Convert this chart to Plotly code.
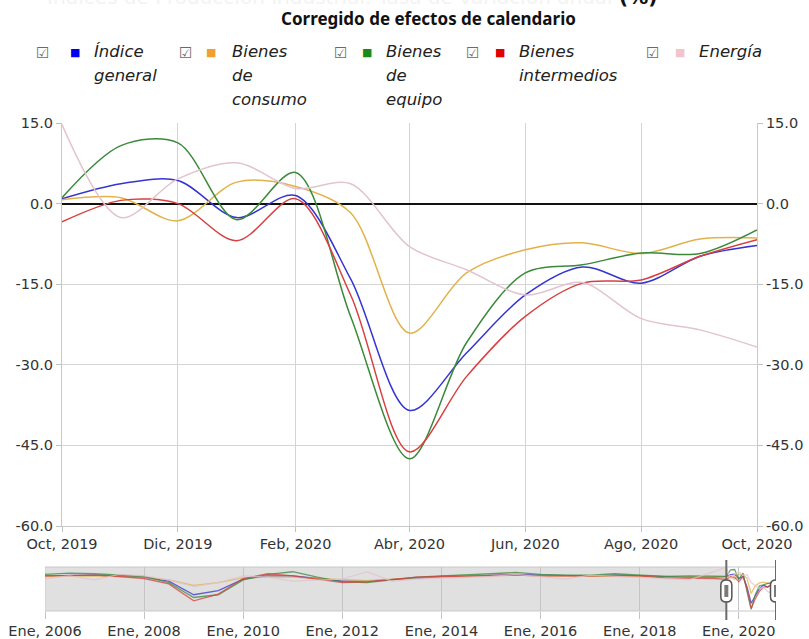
import plotly.graph_objects as go

W, H = 809, 639

# ---------------- data (main window, monthly) ----------------
months = ["2019-10-01", "2019-11-01", "2019-12-01", "2020-01-01", "2020-02-01",
          "2020-03-01", "2020-04-01", "2020-05-01", "2020-06-01", "2020-07-01",
          "2020-08-01", "2020-09-01", "2020-10-01"]
indice_general = [0.9, 3.7, 4.3, -2.6, 1.5, -14.0, -38.5, -27.8, -17.0, -11.8, -14.8, -9.8, -7.8]
bienes_consumo = [0.7, 1.1, -3.2, 4.0, 3.2, -1.7, -24.1, -12.9, -8.6, -7.3, -9.3, -6.6, -6.4]
bienes_equipo = [1.1, 10.8, 11.3, -3.0, 5.8, -21.0, -47.5, -25.9, -12.9, -11.4, -9.2, -9.3, -4.9]
bienes_intermedios = [-3.4, 0.6, 0.0, -6.9, 0.9, -17.0, -46.2, -32.2, -21.0, -14.8, -14.2, -9.8, -6.7]
energia = [14.7, -2.6, 4.6, 7.6, 2.8, 3.7, -8.0, -12.3, -17.0, -14.7, -21.4, -23.5, -26.7]

# ---------------- data (navigator history, semiannual estimates) ----------------
hist_dates = ["2006-01-01", "2006-07-01", "2007-01-01", "2007-07-01", "2008-01-01", "2008-07-01",
              "2009-01-01", "2009-07-01", "2010-01-01", "2010-07-01", "2011-01-01", "2011-07-01",
              "2012-01-01", "2012-07-01", "2013-01-01", "2013-07-01", "2014-01-01", "2014-07-01",
              "2015-01-01", "2015-07-01", "2016-01-01", "2016-07-01", "2017-01-01", "2017-07-01",
              "2018-01-01", "2018-07-01", "2019-01-01", "2019-07-01"]
hist_general = [2, 3, 3, 2, 0, -6, -26, -20, -3, 2, 2, -2, -6, -6, -4, -1, 1, 1, 2, 4, 3, 2, 2, 3, 2, 0, 0, 0]
hist_consumo = [1, 2, 2, 1, 0, -4, -12, -8, -1, 0, 0, -2, -4, -5, -3, -1, 1, 1, 2, 3, 2, 2, 1, 2, 1, 0, 1, 1]
hist_equipo = [4, 6, 5, 3, 1, -8, -30, -26, -4, 4, 8, 0, -7, -8, -4, 0, 2, 3, 5, 7, 4, 3, 3, 5, 3, 1, 2, 2]
hist_intermedios = [2, 3, 3, 1, -2, -10, -35, -25, -2, 5, 2, -3, -8, -7, -4, 0, 1, 2, 2, 3, 2, 2, 3, 3, 2, -1, -1, -2]
hist_energia = [-2, 2, -4, 4, 2, -4, -14, -8, 2, 0, -6, -4, -3, 8, -6, -3, -2, 0, 1, 4, 0, -3, 3, 1, 0, -2, -4, 8]

series_labels = ["Índice\ngeneral", "Bienes\nde\nconsumo", "Bienes\nde\nequipo", "Bienes\nintermedios", "Energía"]
line_colors = ["#3434d0", "#e2b24a", "#3a8a3a", "#d84040", "#e3c3cf"]
legend_colors = ["#0000ee", "#f0a030", "#1a8a1a", "#e00000", "#f4c4cc"]

main_tick_vals = ["2019-10-01", "2019-12-01", "2020-02-01", "2020-04-01", "2020-06-01", "2020-08-01", "2020-10-01"]
main_tick_text = ["Oct, 2019", "Dic, 2019", "Feb, 2020", "Abr, 2020", "Jun, 2020", "Ago, 2020", "Oct, 2020"]
y_tick_vals = [15, 0, -15, -30, -45, -60]
y_tick_text = ["15.0", "0.0", "-15.0", "-30.0", "-45.0", "-60.0"]
nav_tick_vals = ["2006-01-01", "2008-01-01", "2010-01-01", "2012-01-01", "2014-01-01",
                 "2016-01-01", "2018-01-01", "2020-01-01"]
nav_tick_text = ["Ene, 2006", "Ene, 2008", "Ene, 2010", "Ene, 2012", "Ene, 2014",
                 "Ene, 2016", "Ene, 2018", "Ene, 2020"]

title_text = "Índices de Producción Industrial. Tasa de variación anual"
subtitle_text = "Corregido de efectos de calendario"

main_series = [indice_general, bienes_consumo, bienes_equipo, bienes_intermedios, energia]
hist_series = [hist_general, hist_consumo, hist_equipo, hist_intermedios, hist_energia]

FONT = "DejaVu Sans"


def fx(px):
    return px / W


def fy(py):
    return 1 - py / H


fig = go.Figure()

# main traces
for vals, col, lab in zip(main_series, line_colors, series_labels):
    fig.add_trace(go.Scatter(x=months, y=vals, mode="lines", name=lab.replace("\n", " "),
                             line=dict(color=col, width=1.5, shape="spline", smoothing=0.9),
                             xaxis="x", yaxis="y", showlegend=False))
# invisible trace to carry the right-hand axis
fig.add_trace(go.Scatter(x=months, y=indice_general, mode="lines", line=dict(width=0),
                         opacity=0, xaxis="x", yaxis="y3", showlegend=False, hoverinfo="skip"))

# navigator traces
for hv, mv, col in zip(hist_series, main_series, line_colors):
    fig.add_trace(go.Scatter(x=hist_dates + months, y=hv + mv, mode="lines",
                             line=dict(color=col, width=1.3), opacity=0.75,
                             xaxis="x2", yaxis="y2", showlegend=False, hoverinfo="skip"))

tickfont = dict(family=FONT, size=14.5, color="#333333")

fig.update_layout(
    template="none",
    width=W, height=H, margin=dict(l=0, r=0, t=0, b=0, pad=0, autoexpand=False),
    paper_bgcolor="white", plot_bgcolor="rgba(0,0,0,0)",
    font=dict(family=FONT),
    showlegend=False,
    xaxis=dict(domain=[fx(62), fx(757)], anchor="y", type="date", automargin=False,
               range=[months[0], months[-1]],
               tickvals=main_tick_vals, ticktext=main_tick_text, tickfont=tickfont,
               showgrid=True, gridcolor="#d4d4d4", gridwidth=1,
               ticks="outside", ticklen=5, tickcolor="#c0c0c0",
               showline=True, linecolor="#c8c8c8", zeroline=False, fixedrange=True),
    yaxis=dict(domain=[fy(526), fy(123)], anchor="x", range=[-60, 15], automargin=False,
               tickvals=y_tick_vals, ticktext=y_tick_text, tickfont=tickfont,
               showgrid=True, gridcolor="#d4d4d4", gridwidth=1,
               zeroline=True, zerolinecolor="#111111", zerolinewidth=1.8,
               ticks="outside", ticklen=5, tickcolor="#c0c0c0",
               showline=True, linecolor="#c8c8c8", fixedrange=True),
    yaxis3=dict(overlaying="y", side="right", anchor="x", range=[-60, 15], automargin=False,
                tickvals=y_tick_vals, ticktext=y_tick_text, tickfont=tickfont,
                showgrid=False, zeroline=False,
                ticks="outside", ticklen=5, tickcolor="#c0c0c0",
                showline=True, linecolor="#c8c8c8", fixedrange=True),
    xaxis2=dict(domain=[fx(45), fx(776)], anchor="y2", type="date", automargin=False,
                range=[hist_dates[0], months[-1]],
                tickvals=nav_tick_vals, ticktext=nav_tick_text, tickfont=tickfont,
                showgrid=True, gridcolor="#c4c4c4", gridwidth=1,
                ticks="outside", ticklen=7, tickcolor="#c4c4c4",
                showline=False, zeroline=False, fixedrange=True),
    yaxis2=dict(domain=[fy(611), fy(567)], anchor="x2", range=[-50, 15], automargin=False,
                showticklabels=False, showgrid=False, zeroline=False,
                showline=False, fixedrange=True),
)

shapes = []
# navigator shaded (unselected) region and frame
shapes.append(dict(type="rect", xref="x2", yref="y2 domain", x0=hist_dates[0], x1=months[0],
                   y0=0, y1=1, fillcolor="#e0e0e0", line=dict(width=0), layer="below"))
shapes.append(dict(type="rect", xref="x2", yref="y2 domain", x0=hist_dates[0], x1=months[-1],
                   y0=0, y1=1, fillcolor="rgba(0,0,0,0)", line=dict(color="#c8c8c8", width=1),
                   layer="below"))
# navigator handles
for d in (months[0], months[-1]):
    shapes.append(dict(type="line", xref="x2", yref="paper", x0=d, x1=d,
                       y0=fy(620), y1=fy(560), line=dict(color="#6a6a6a", width=2)))
    shapes.append(dict(type="path", xref="x2", yref="paper", xsizemode="pixel", ysizemode="pixel",
                       xanchor=d, yanchor=fy(591),
                       path="M -5.5,-6 Q -5.5,-11 0,-11 Q 5.5,-11 5.5,-6 L 5.5,6 Q 5.5,11 0,11 "
                            "Q -5.5,11 -5.5,6 Z",
                       fillcolor="white", line=dict(color="#555555", width=1.5)))
    shapes.append(dict(type="rect", xref="x2", yref="paper", xsizemode="pixel", ysizemode="pixel",
                       xanchor=d, yanchor=fy(591), x0=-2, x1=2, y0=-6, y1=6,
                       fillcolor="#7a7a7a", line=dict(width=0)))
fig.update_layout(shapes=shapes)

ann = []
# clipped main title (cut by the top edge, as in the reference)
ann.append(dict(xref="paper", yref="paper", x=fx(352), y=fy(-3), xanchor="center", yanchor="middle",
                showarrow=False,
                text="<span style='color:#f3f3f3'>" + title_text + "</span> <b>(%)</b>",
                font=dict(family=FONT, size=20, color="#111111")))
ann.append(dict(xref="paper", yref="paper", x=fx(428), y=fy(19), xanchor="center", yanchor="middle",
                showarrow=False, text="<b>" + subtitle_text + "</b>",
                font=dict(family="Noto Sans", size=17, color="#111111")))

# legend built from annotations
cb_x = [42, 185, 340, 472, 652]
sq_x = [75, 211, 367, 500, 680]
tx_x = [92, 230, 384, 517, 697]
row_y0, row_dy = 52, 23.5
for i, lab in enumerate(series_labels):
    ann.append(dict(xref="paper", yref="paper", x=fx(cb_x[i]), y=fy(row_y0 + 1), xanchor="center",
                    yanchor="middle", showarrow=False, text="☑",
                    font=dict(family=FONT, size=15, color="#6a6a6a")))
    ann.append(dict(xref="paper", yref="paper", x=fx(sq_x[i]), y=fy(row_y0 + 1), xanchor="center",
                    yanchor="middle", showarrow=False, text="■",
                    font=dict(family=FONT, size=11, color=legend_colors[i])))
    for j, line in enumerate(lab.split("\n")):
        ann.append(dict(xref="paper", yref="paper", x=fx(tx_x[i]), y=fy(row_y0 + j * row_dy),
                        xanchor="left", yanchor="middle", showarrow=False,
                        text="<i>" + line + "</i>",
                        font=dict(family=FONT, size=16.5, color="#222222")))
fig.update_layout(annotations=ann)

fig.write_html("out.html", config={"displayModeBar": False},
               post_script="document.body.style.margin='0';")
